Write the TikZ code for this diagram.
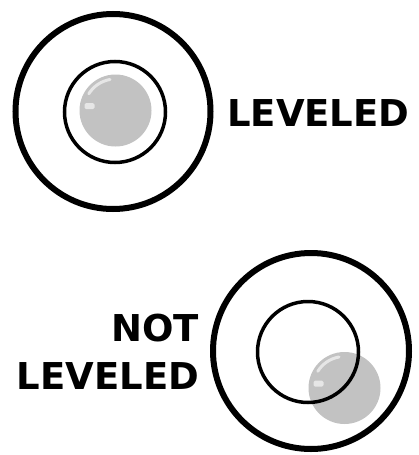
\documentclass[tikz,border=0pt]{standalone}
\usepackage{fontspec}
\setmainfont{DejaVu Sans}
\usetikzlibrary{calc}
\definecolor{bubblegray}{HTML}{C2C2C2}
\definecolor{shinegray}{HTML}{E6E6E6}
\tikzset{
    outerring/.style={line width=6pt},
    innerring/.style={line width=3.5pt},
    label/.style={font=\bfseries\fontsize{37}{44}\selectfont, inner sep=0pt}
}
\begin{document}
\begin{tikzpicture}[x=1pt, y=-1pt]
        \useasboundingbox (0,0) rectangle (419,455);
        % vial centres and bubble positions
        \coordinate (top-vial) at (113,111.5);
        \coordinate (top-eye) at (115,112);
        \coordinate (top-bubble) at (115.5,110.5);
        \coordinate (low-vial) at (311,351);
        \coordinate (low-eye) at (308,352);
        \coordinate (low-bubble) at (344.5,388);
        \draw[outerring] (top-vial) circle (97.5);
        \draw[outerring] (low-vial) circle (98);
        \foreach \b in {top-bubble, low-bubble} {
            \fill[bubblegray] (\b) circle (36);
            \draw[shinegray, line width=3pt, line cap=round]
                (\b) ++(-100:31.5) arc[start angle=-100, end angle=-148, radius=31.5];
            \fill[shinegray, rounded corners=1.5pt]
                ($(\b)+(-31,-7.5)$) rectangle ($(\b)+(-21,-1.5)$);
        }
        \draw[innerring] (top-eye) circle (50.5);
        \draw[innerring] (low-eye) circle (50.5);
        \node[label, anchor=base west] (top-text) at (227,126) {LEVELED};
        \node[label, anchor=base east] (not-text) at (199,341) {NOT};
        \node[label, anchor=base east] (low-text) at (199.5,389) {LEVELED};
    \end{tikzpicture}
\end{document}
